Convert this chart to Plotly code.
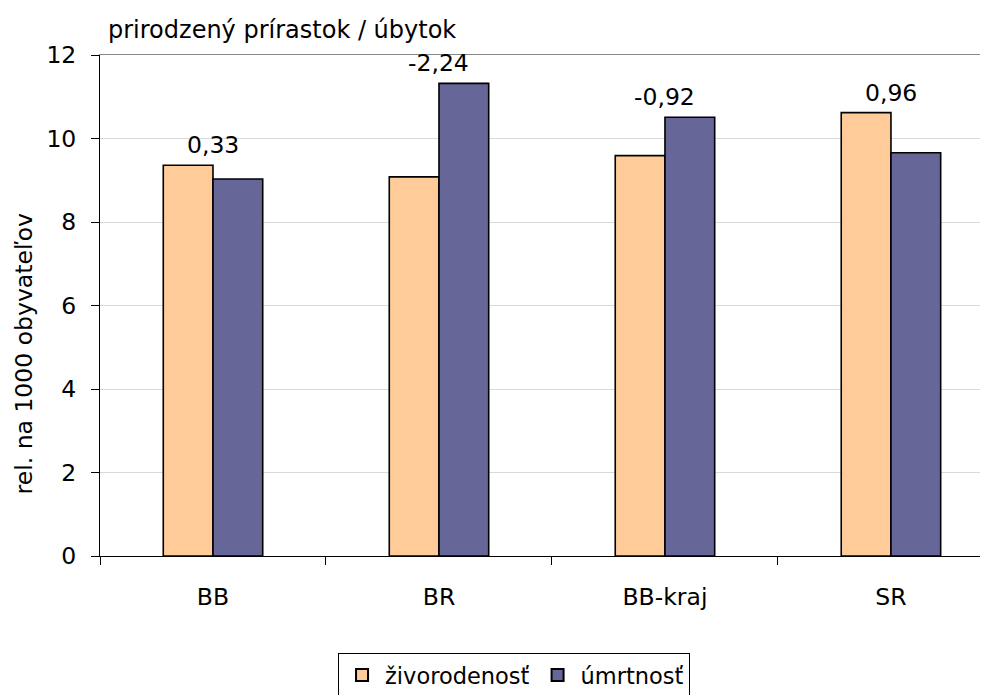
import plotly.graph_objects as go

categories = ["BB", "BR", "BB-kraj", "SR"]
zivorodenost = [9.36, 9.08, 9.59, 10.62]
umrtnost = [9.03, 11.32, 10.51, 9.66]
diff_labels = ["0,33", "-2,24", "-0,92", "0,96"]
y_ticks = [0, 2, 4, 6, 8, 10, 12]

FONT = "DejaVu Sans"
FS = 23.5

fig = go.Figure()
fig.add_trace(go.Bar(
    x=categories, y=zivorodenost, name="živorodenosť",
    marker=dict(color="#FFCC99", line=dict(color="#000000", width=1.6)),
))
fig.add_trace(go.Bar(
    x=categories, y=umrtnost, name="úmrtnosť",
    marker=dict(color="#666699", line=dict(color="#000000", width=1.6)),
))

for cat, a, b, lab in zip(categories, zivorodenost, umrtnost, diff_labels):
    fig.add_annotation(
        x=cat, y=max(a, b), text=lab, showarrow=False,
        yanchor="bottom", yshift=4,
        font=dict(family=FONT, size=FS, color="#000000"),
    )

# y-axis title (placed like the original, below the vertical centre)
fig.add_annotation(
    xref="paper", yref="paper", x=-0.086, y=0.403,
    text="rel. na 1000 obyvateľov", textangle=-90, showarrow=False,
    xanchor="center", yanchor="middle",
    font=dict(family=FONT, size=FS, color="#000000"),
)

fig.update_layout(
    width=995, height=695,
    margin=dict(l=92, r=23, t=47, b=147, autoexpand=False),
    paper_bgcolor="white", plot_bgcolor="white",
    font=dict(family=FONT, size=FS, color="#000000"),
    barmode="group", bargap=0.56, bargroupgap=0,
    title=dict(text="prirodzený prírastok / úbytok", x=100/995, xanchor="left",
               y=1 - 22/695, yanchor="middle",
               font=dict(family=FONT, size=24, color="#000000")),
    showlegend=True,
    legend=dict(orientation="h", x=0.4705, xanchor="center", y=-0.1936, yanchor="top",
                bordercolor="#000000", borderwidth=1, bgcolor="white",
                font=dict(family=FONT, size=22.5, color="#000000"),
                itemsizing="constant", traceorder="normal", itemwidth=36),
    xaxis=dict(
        type="category", range=[-0.5, 3.394], automargin=False,
        showline=True, linecolor="#000000", linewidth=1,
        ticks="outside", tickson="boundaries", ticklen=8, tickcolor="#000000",
        showgrid=False, ticklabelstandoff=20,
        tickfont=dict(family=FONT, size=FS, color="#000000"),
    ),
    xaxis2=dict(
        overlaying="x", side="top", matches="x", showline=True,
        linecolor="#888888", linewidth=1, showticklabels=False, ticks="",
        showgrid=False, type="category", range=[-0.5, 3.394], automargin=False,
    ),
    yaxis=dict(
        range=[0, 12], tickvals=y_ticks, automargin=False,
        showline=True, linecolor="#000000", linewidth=1,
        ticks="outside", ticklen=8, tickcolor="#000000",
        showgrid=True, gridcolor="#D9D9D9", gridwidth=1,
        zeroline=False, ticklabelstandoff=10,
        tickfont=dict(family=FONT, size=FS, color="#000000"),
    ),
)

fig.add_trace(go.Scatter(x=categories, y=[None]*4, xaxis="x2", showlegend=False,
                         hoverinfo="skip"))

fig.write_html("out.html")
